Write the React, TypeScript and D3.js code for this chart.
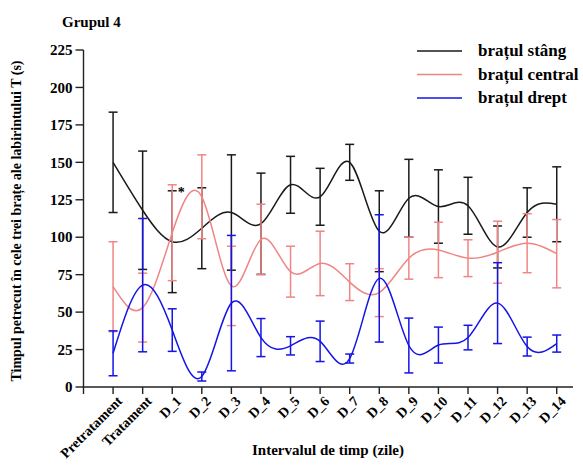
import React from "react";
import * as d3 from "d3";

const categories = [
  "Pretratament", "Tratament", "D_1", "D_2", "D_3", "D_4", "D_5", "D_6",
  "D_7", "D_8", "D_9", "D_10", "D_11", "D_12", "D_13", "D_14",
];

// media si deviatia standard pentru fiecare brat
const stangMean = [150, 118, 97, 106, 116.5, 109, 135, 127, 150, 104, 126, 120.5, 121, 93.5, 116.5, 122];
const stangSd = [33.5, 39.5, 34, 27, 38.5, 33.8, 19, 19, 12, 27, 26, 24.5, 19, 14, 16.5, 25];

const centralMean = [67, 53, 103, 127, 67.5, 98.5, 77, 82.5, 70, 63, 86, 91.5, 86, 90, 96, 89];
const centralSd = [30, 23, 32, 28, 26.5, 23.5, 17, 21.5, 12.3, 16, 14, 18.5, 12.3, 20.7, 19.7, 22.8];

const dreptMean = [22.5, 68, 38, 7, 56, 33, 27.5, 30.5, 19, 72.5, 27.7, 28, 33, 56, 27, 29];
const dreptSd = [15, 44.5, 14.2, 3, 45.2, 12.7, 6.1, 13.5, 3, 42.5, 18.3, 12, 8.2, 27, 6.3, 5.7];

const yTicks = [0, 25, 50, 75, 100, 125, 150, 175, 200, 225];

const series = [
  { name: "brațul stâng", color: "#1a1a1a", mean: stangMean, sd: stangSd },
  { name: "brațul central", color: "#f08585", mean: centralMean, sd: centralSd },
  { name: "brațul drept", color: "#1414e6", mean: dreptMean, sd: dreptSd },
];

const txt = (size: number): React.CSSProperties => ({
  fontFamily: '"Liberation Serif"',
  fontWeight: 700,
  fontSize: size,
});

export default function App() {
  const width = 583;
  const height = 465;

  const x = d3.scaleLinear().domain([-1, 15.55]).range([83.5, 573]);
  const y = d3.scaleLinear().domain([0, 225]).range([387, 50]);

  const line = d3
    .line<number>()
    .x((_, i) => x(i))
    .y((d) => y(d))
    .curve(d3.curveNatural);

  const cap = 4.5;

  return (
    <svg
      width={width}
      height={height}
      style={{ position: "absolute", left: 0, top: 0, background: "#fff" }}
    >
      <text x={62} y={27} style={txt(15)}>
        Grupul 4
      </text>

      {/* axa y */}
      <line x1={x(-1)} x2={x(-1)} y1={y(225)} y2={y(0)} stroke="#222" strokeWidth={1.4} />
      {yTicks.map((t) => (
        <g key={t}>
          <line x1={x(-1) - 8} x2={x(-1)} y1={y(t)} y2={y(t)} stroke="#222" strokeWidth={1.4} />
          <text x={x(-1) - 11} y={y(t)} dy="0.35em" textAnchor="end" style={txt(15)}>
            {t}
          </text>
        </g>
      ))}
      <text
        transform={`translate(21, 221) rotate(-90)`}
        textAnchor="middle"
        style={txt(14)}
      >
        Timpul petrecut în cele trei brațe ale labirintului T (s)
      </text>

      {/* axa x */}
      <line x1={x(-1) - 0.7} x2={573} y1={y(0)} y2={y(0)} stroke="#222" strokeWidth={1.4} />
      <line x1={x(-1)} x2={x(-1)} y1={y(0)} y2={y(0) + 7} stroke="#222" strokeWidth={1.4} />
      {categories.map((c, i) => (
        <g key={c}>
          <line x1={x(i)} x2={x(i)} y1={y(0)} y2={y(0) + 7} stroke="#222" strokeWidth={1.4} />
          <text
            transform={`translate(${x(i) + 10}, 402) rotate(-45)`}
            textAnchor="end"
            style={txt(14)}
          >
            {c}
          </text>
        </g>
      ))}
      <text x={328} y={455} textAnchor="middle" style={txt(15)}>
        Intervalul de timp (zile)
      </text>

      {/* serii */}
      {series.map((s) => (
        <g key={s.name}>
          {s.mean.map((m, i) => {
            const top = y(m + s.sd[i]);
            const bot = y(m - s.sd[i]);
            const cx = x(i);
            return (
              <g key={i} stroke={s.color} strokeWidth={1.5}>
                <line x1={cx} x2={cx} y1={top} y2={bot} />
                <line x1={cx - cap} x2={cx + cap} y1={top} y2={top} />
                <line x1={cx - cap} x2={cx + cap} y1={bot} y2={bot} />
              </g>
            );
          })}
          <path d={line(s.mean) ?? ""} fill="none" stroke={s.color} strokeWidth={1.5} />
        </g>
      ))}

      <text x={x(2) + cap + 1} y={y(stangMean[2] + stangSd[2]) + 6} style={txt(14)}>
        *
      </text>

      {/* legenda */}
      {series.map((s, i) => (
        <g key={s.name} transform={`translate(0, ${51 + i * 23.5})`}>
          <line x1={417} x2={462} y1={0} y2={0} stroke={s.color} strokeWidth={1.5} />
          <text x={478} y={0} dy="0.32em" style={txt(17)}>
            {s.name}
          </text>
        </g>
      ))}
    </svg>
  );
}
